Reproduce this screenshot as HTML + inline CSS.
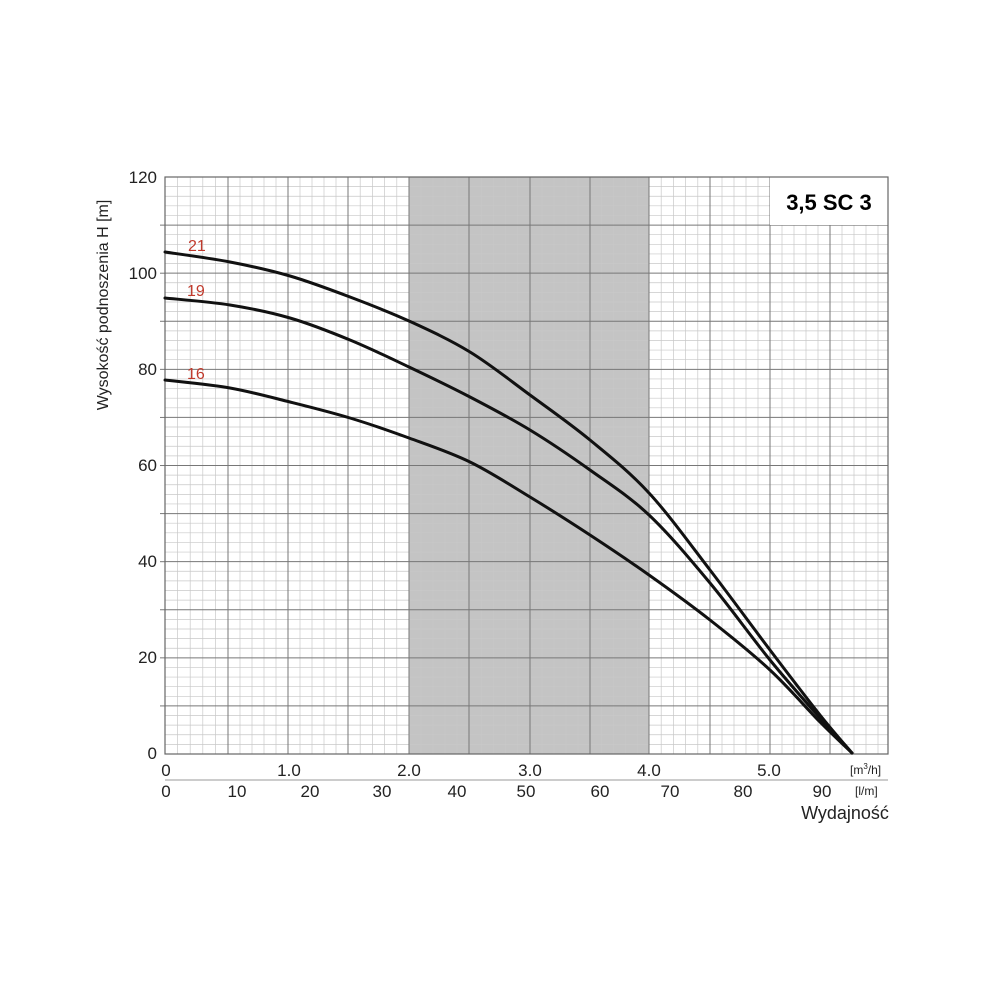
<!DOCTYPE html>
<html><head><meta charset="utf-8"><style>body{margin:0;background:#fff}svg{display:block}</style></head><body>
<svg width="1000" height="1000" viewBox="0 0 1000 1000" xmlns="http://www.w3.org/2000/svg" font-family="Liberation Sans, sans-serif">
<rect width="1000" height="1000" fill="#fff"/>
<rect x="409" y="177" width="240" height="577" fill="#c4c4c4"/>
<g id="minor" stroke="#c8c8c8" stroke-width="0.7"></g>
<g id="major" stroke="#777" stroke-width="1"></g>
<rect x="770" y="177" width="118" height="48" fill="#fff"/>
<text x="829" y="210" font-size="22" font-weight="bold" text-anchor="middle">3,5 SC 3</text>
<rect x="165" y="177" width="723" height="577" fill="none" stroke="#666" stroke-width="1.2"/>
<line x1="165" y1="780" x2="888" y2="780" stroke="#999" stroke-width="1"/>
<g id="curves" fill="none" stroke="#111" stroke-width="3" stroke-linejoin="round" stroke-linecap="round"></g>
<g fill="#c0392b" font-size="16">
<text x="188" y="251">21</text><text x="187" y="296">19</text><text x="187" y="379">16</text>
</g>
<g font-size="17" text-anchor="end" fill="#222">
<text x="157" y="183">120</text><text x="157" y="279">100</text><text x="157" y="375">80</text>
<text x="157" y="471">60</text><text x="157" y="567">40</text><text x="157" y="663">20</text><text x="157" y="759">0</text>
</g>
<text transform="translate(108,305) rotate(-90)" font-size="16" text-anchor="middle" fill="#222">Wysokość podnoszenia H [m]</text>
<g font-size="17" text-anchor="middle" fill="#222">
<text x="166" y="776">0</text><text x="289" y="776">1.0</text><text x="409" y="776">2.0</text><text x="530" y="776">3.0</text><text x="649" y="776">4.0</text><text x="769" y="776">5.0</text>
<text x="166" y="797">0</text><text x="237" y="797">10</text><text x="310" y="797">20</text><text x="382" y="797">30</text><text x="457" y="797">40</text><text x="526" y="797">50</text><text x="600" y="797">60</text><text x="670" y="797">70</text><text x="743" y="797">80</text><text x="822" y="797">90</text>
</g>
<text x="850" y="774" font-size="12" fill="#222">[m<tspan font-size="8" dy="-5">3</tspan><tspan dy="5">/h]</tspan></text>
<text x="855" y="795" font-size="12" fill="#222">[l/m]</text>
<text x="845" y="819" font-size="18" text-anchor="middle" fill="#222">Wydajność</text>
</svg>
<script>
(function(){var ns="http://www.w3.org/2000/svg",mi=document.getElementById("minor"),ma=document.getElementById("major");
function L(g,x1,y1,x2,y2){var l=document.createElementNS(ns,"line");l.setAttribute("x1",x1);l.setAttribute("y1",y1);l.setAttribute("x2",x2);l.setAttribute("y2",y2);g.appendChild(l);}
var xs=[165,228,288,348,409,469,530,590,649,710,770,830,890];
for(var s=0;s<12;s++){for(var t=0;t<5;t++){var x=xs[s]+(xs[s+1]-xs[s])*t/5;if(x>888)break;L(t==0?ma:mi,x,177,x,754);}}
for(var j=0;j<=60;j++){var y=754-j*9.617;L(j%5==0?ma:mi,165,y,888,y);}
for(var k=1;k<12;k++){L(ma,160,754-k*48.08,165,754-k*48.08);}
var C=[[165,252,230,262,290,276,350,297,409,321,470,352,530,395,590,440,649,493,710,570,770,650,820,715,852,753],
[165,298,230,305,290,318,350,340,409,367,470,397,530,430,590,470,649,515,710,583,770,660,820,718,852,753],
[165,380,230,388,290,402,350,418,409,438,470,462,530,497,590,535,649,575,710,620,770,670,820,722,852,753]];
var cg=document.getElementById("curves");
C.forEach(function(a){var p=[];for(var i=0;i<a.length;i+=2)p.push([a[i],a[i+1]]);
var d="M"+p[0][0]+","+p[0][1];
for(var i=0;i<p.length-1;i++){var p0=p[i-1]||p[i],p1=p[i],p2=p[i+1],p3=p[i+2]||p2;
d+=" C"+(p1[0]+(p2[0]-p0[0])/6)+","+(p1[1]+(p2[1]-p0[1])/6)+" "+(p2[0]-(p3[0]-p1[0])/6)+","+(p2[1]-(p3[1]-p1[1])/6)+" "+p2[0]+","+p2[1];}
var e=document.createElementNS(ns,"path");e.setAttribute("d",d);cg.appendChild(e);});
})();
</script>
</body></html>
